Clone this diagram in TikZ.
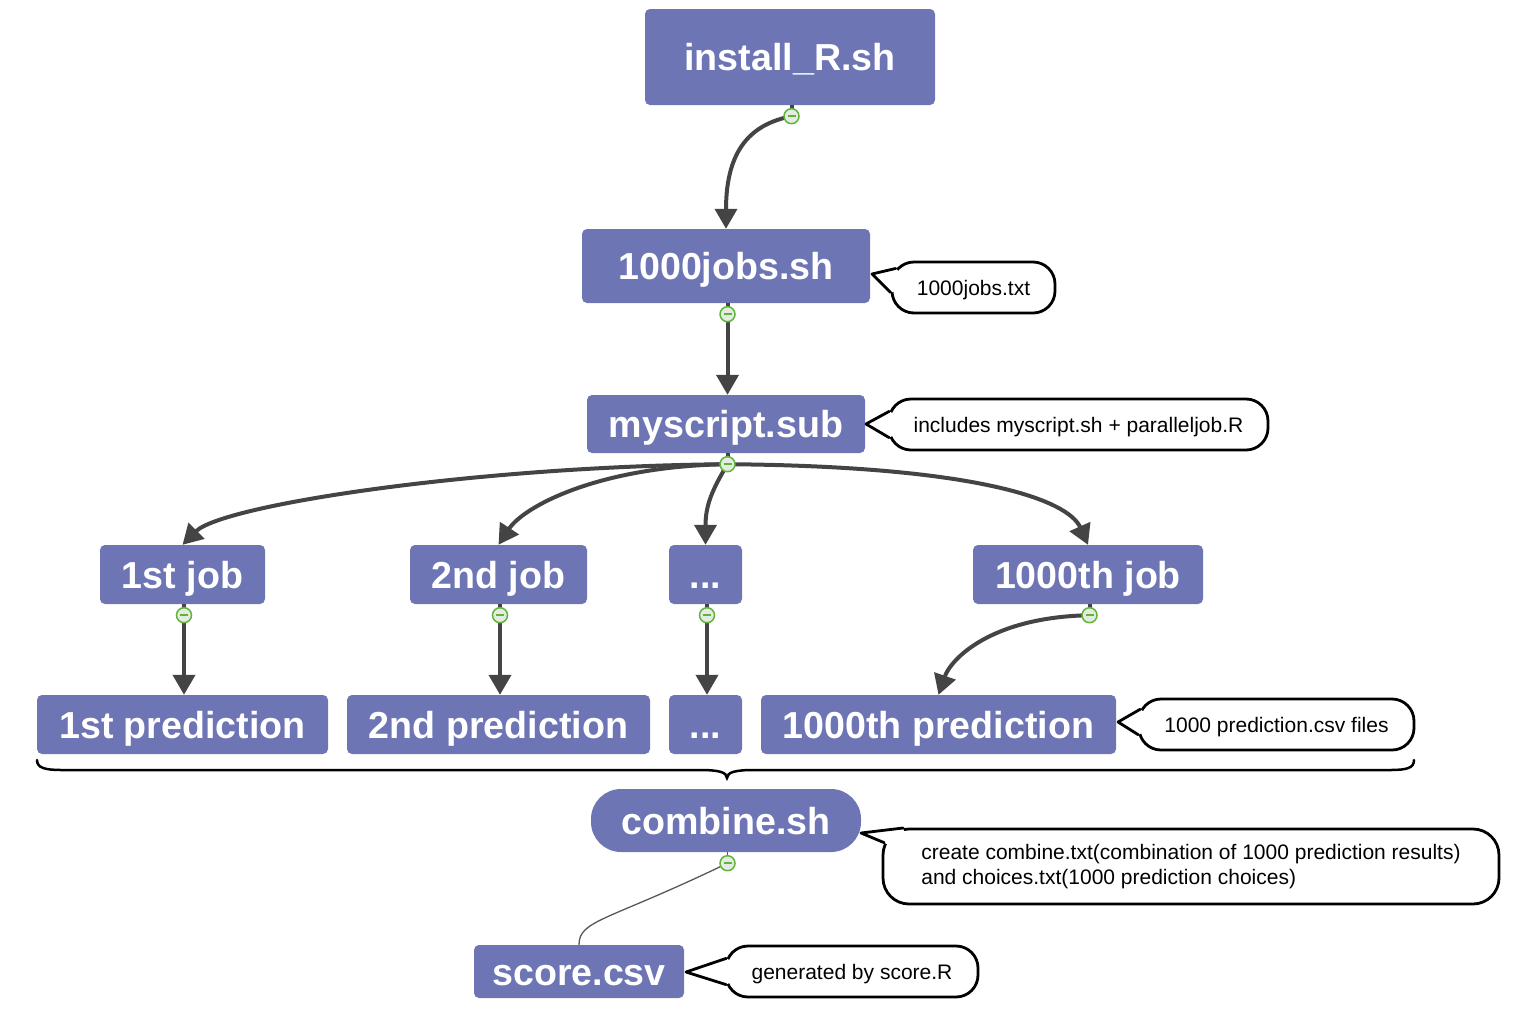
\documentclass[tikz,border=0pt]{standalone}
\usepackage{fontspec}
\setmainfont{Liberation Sans}
\usetikzlibrary{arrows.meta,calc}
\definecolor{nodeblue}{HTML}{6D75B5}
\definecolor{conngray}{HTML}{444444}
\definecolor{markgreen}{HTML}{62B33C}
\definecolor{markfill}{HTML}{E4ECE2}
\tikzset{
  box/.style={fill=nodeblue, rounded corners=5pt, inner sep=0pt, text=white,
    font=\fontsize{37.6}{40}\selectfont\bfseries, text height=27pt, text depth=0pt},
  conn/.style={draw=conngray, line width=4pt, -{Triangle[length=20pt,width=22pt]}},
  stub/.style={draw=conngray, line width=4pt},
  thin/.style={draw=conngray!90, line width=1.3pt},
  marker/.style={circle, draw=markgreen, fill=markfill, line width=1.5pt, minimum size=15pt, inner sep=0pt,
    path picture={\draw[markgreen, line width=1.6pt] ([xshift=-4pt]path picture bounding box.center) -- ([xshift=4pt]path picture bounding box.center);}},
  note/.style={draw=black, line width=2.8pt, fill=white, inner sep=0pt, font=\fontsize{21}{25}\selectfont},
  onenote/.style={note, rounded corners=22pt, minimum height=51pt, text height=15pt, text depth=0pt},
  noteline/.style={draw=black, line width=2.8pt, line join=round, line cap=round},
}
\begin{document}
\begin{tikzpicture}[x=1pt,y=-1pt]
\useasboundingbox (0,0) rectangle (1528,1026);

% main boxes
\node[box, minimum width=290pt, minimum height=96pt] (install) at (790,57) {install\_R.sh};
\node[box, minimum width=288pt, minimum height=74pt] (jobs) at (726,266) {1000jobs.sh};
\node[box, minimum width=278pt, minimum height=58pt] (sub) at (726,424) {myscript.sub};
\node[box, minimum width=165pt, minimum height=59pt] (j1) at (182.5,574.5) {1st job};
\node[box, minimum width=177pt, minimum height=59pt] (j2) at (498.5,574.5) {2nd job};
\node[box, minimum width=73pt, minimum height=59pt] (j3) at (705.5,574.5) {...};
\node[box, minimum width=230pt, minimum height=59pt] (j4) at (1088,574.5) {1000th job};
\node[box, minimum width=291pt, minimum height=59pt] (p1) at (182.5,724.5) {1st prediction};
\node[box, minimum width=303pt, minimum height=59pt] (p2) at (498.5,724.5) {2nd prediction};
\node[box, minimum width=73pt, minimum height=59pt] (p3) at (705.5,724.5) {...};
\node[box, minimum width=355pt, minimum height=59pt] (p4) at (938.5,724.5) {1000th prediction};
\node[box, rounded corners=30pt, minimum width=270pt, minimum height=63pt] (combine) at (726,820.5) {combine.sh};
\node[box, minimum width=210pt, minimum height=53pt] (score) at (579,971.5) {score.csv};

% marker positions
\coordinate (m1) at ($(install.south)+(1.5,11)$);
\coordinate (m2) at ($(jobs.south)+(1.5,11)$);
\coordinate (m3) at ($(sub.south)+(1.5,11)$);
\coordinate (m4) at ($(j1.south)+(1.5,11)$);
\coordinate (m5) at ($(j2.south)+(1.5,11)$);
\coordinate (m6) at ($(j3.south)+(1.5,11)$);
\coordinate (m7) at ($(j4.south)+(1.5,11)$);
\coordinate (m8) at ($(combine.south)+(1.5,11)$);

% stubs
\draw[stub] (m1) -- (m1 |- install.south);
\draw[stub] (m2) -- (m2 |- jobs.south);
\draw[stub] (m3) -- (m3 |- sub.south);
\draw[stub] (m4) -- (m4 |- j1.south);
\draw[stub] (m5) -- (m5 |- j2.south);
\draw[stub] (m6) -- (m6 |- j3.south);
\draw[stub] (m7) -- (m7 |- j4.south);
\draw[thin] (m8) -- (m8 |- combine.south);

% connectors
\draw[conn] (m1) .. controls +(-40,8) and +(0,-80) .. (jobs.north);
\draw[conn] (m2) -- (m2 |- sub.north);
\draw[conn] (m3) .. controls +(-250,2) and +(40,-40) .. (j1.north);
\draw[conn] (m3) .. controls +(-130,2) and +(25,-38) .. (j2.north);
\draw[conn] (m3) .. controls +(-15,25) and +(0,-40) .. (j3.north);
\draw[conn] (m3) .. controls +(250,2) and +(-20,-45) .. (j4.north);
\draw[conn] (m4) -- (m4 |- p1.north);
\draw[conn] (m5) -- (m5 |- p2.north);
\draw[conn] (m6) -- (m6 |- p3.north);
\draw[conn] (m7) .. controls +(-100,2) and +(12,-35) .. (p4.north);
\draw[thin] (m8) .. controls +(-120,58) and +(0,-25) .. (score.north);

% markers
\node[marker] (k1) at (m1) {};
\node[marker] (k2) at (m2) {};
\node[marker] (k3) at (m3) {};
\node[marker] (k4) at (m4) {};
\node[marker] (k5) at (m5) {};
\node[marker] (k6) at (m6) {};
\node[marker] (k7) at (m7) {};
\node[marker] (k8) at (m8) {};

% brace
\draw[black, line width=2.5pt, line cap=round]
  (37,760) .. controls (37,768) and (45,770) .. (62,770) -- (700,770)
  .. controls (718,770) and (727,772) .. (727,778)
  .. controls (727,772) and (736,770) .. (754,770) -- (1390,770)
  .. controls (1407,770) and (1414,768) .. (1414,760);

% callouts
\node[onenote, minimum width=163pt] (c1) at (973.5,287.5) {1000jobs.txt};
\node[onenote, minimum width=379pt] (c2) at (1078.5,424.5) {includes myscript.sh + paralleljob.R};
\node[onenote, minimum width=275pt] (c3) at (1276.5,724.5) {1000 prediction.csv files};
\node[note, rounded corners=26pt, minimum width=616pt, minimum height=75pt, align=left] (c4) at (1191,866.5) {create combine.txt(combination of 1000 prediction results)\\and choices.txt(1000 prediction choices)};
\node[onenote, minimum width=252pt] (c5) at (852,971.5) {generated by score.R};

\coordinate (t1) at (872,274);
\coordinate (t2) at (866,424);
\coordinate (t3) at (1118,722);
\coordinate (t4) at (861,833);
\coordinate (t5) at (686,972);

% pointers: upper point on upper-left arc (angle a), lower point on lower-left arc (angle b)
\foreach \c/\t/\a/\b in {c1/t1/40/0, c2/t2/22/22, c3/t3/28/14, c5/t5/22/22}{
  \coordinate (pa) at ($(\c.north west)+({22-22*cos(\a)},{22-22*sin(\a)})$);
  \coordinate (pb) at ($(\c.south west)+({22-22*cos(\b)},{-22+22*sin(\b)})$);
  \fill[white] (\t) -- (pa) -- ($(\c.west)+(26,0)$) -- (pb) -- cycle;
  \draw[noteline] (pa) -- (\t) -- (pb);
}
\coordinate (qa) at ($(c4.north west)+({26-26*cos(80)},{26-26*sin(80)})$);
\coordinate (qb) at ($(c4.north west)+({26-26*cos(25)},{26-26*sin(25)})$);
\fill[white] (t4) -- (qa) -- ($(c4.north west)+(30,30)$) -- (qb) -- cycle;
\draw[noteline] (qa) -- (t4) -- (qb);
\end{tikzpicture}
\end{document}
